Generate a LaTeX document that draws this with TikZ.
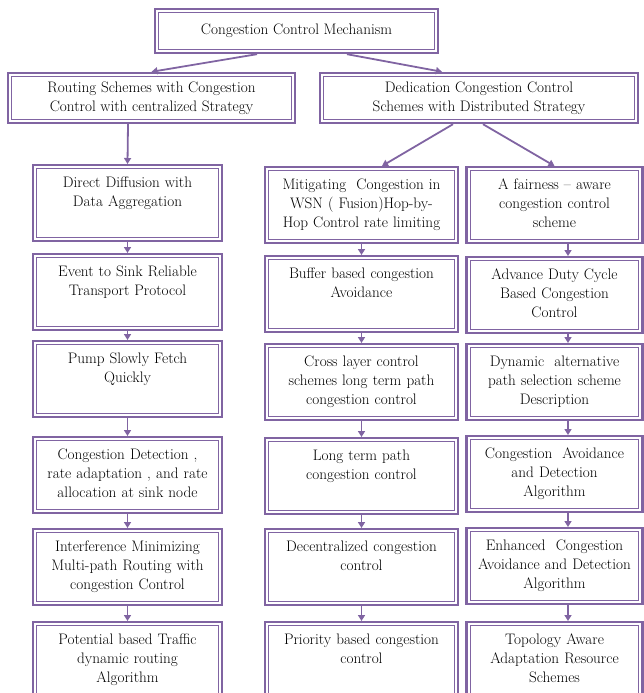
\documentclass[tikz,border=0pt]{standalone}
\usepackage{tikz}
\usetikzlibrary{arrows.meta}
\usepackage{xcolor}

\definecolor{boxline}{RGB}{128,100,162}

\tikzset{
  frame/.style={draw=boxline, line width=2.4pt, fill=white, inner xsep=2pt, inner ysep=6pt,
    align=center, text=black,
    path picture={\draw[boxline, line width=0.9pt]
      ([shift={(3.6pt,3.6pt)}]path picture bounding box.south west) rectangle
      ([shift={(-3.6pt,-3.6pt)}]path picture bounding box.north east);}},
  colbox/.style={frame, anchor=north, text width=#1, text height=16pt, text depth=48pt},
  link/.style={draw=boxline, line width=1.8pt, -{Triangle[length=6pt,width=7pt]}},
}

\begin{document}
\begin{tikzpicture}[x=1pt, y=-1pt, font=\fontsize{15.2}{19}\selectfont]

  \useasboundingbox (0,0) rectangle (644,693);
  \clip (0,0) rectangle (644,693);

  % Top levels
  \node[frame, minimum width=283pt, minimum height=44pt] (ccm) at (296.5,31) {Congestion Control Mechanism};
  \node[frame, minimum width=287pt, minimum height=50pt] (rout) at (151.5,98)
    {Routing Schemes with Congestion\\Control with centralized Strategy};
  \node[frame, minimum width=318pt, minimum height=50pt] (ded) at (479,98)
    {Dedication Congestion Control\\Schemes with Distributed Strategy};

  % Centralized column
  \node[colbox=185pt] (dd)   at (127.5,164) {Direct Diffusion with\\Data Aggregation};
  \node[colbox=185pt] (esrt) at (127.5,253) {Event to Sink Reliable\\Transport Protocol};
  \node[colbox=185pt] (psfq) at (127.5,340) {Pump Slowly Fetch\\Quickly};
  \node[colbox=185pt] (cda)  at (127.5,436) {Congestion Detection ,\\rate adaptation , and rate\\allocation at sink node};
  \node[colbox=185pt] (imr)  at (127.5,528) {Interference Minimizing\\Multi-path Routing with\\congestion Control};
  \node[colbox=185pt, text depth=60pt] (ptr) at (127.5,621) {Potential based Traffic\\dynamic routing\\Algorithm};

  % Distributed columns
  \node[colbox=189pt] (mit)   at (361.5,166) {Mitigating\ \ Congestion in\\WSN ( Fusion)Hop-by-\\Hop Control rate limiting};
  \node[colbox=189pt] (buf)   at (361.5,255) {Buffer based congestion\\Avoidance};
  \node[colbox=189pt] (cross) at (361.5,343) {Cross layer control\\schemes long term path\\congestion control};
  \node[colbox=189pt] (ltp)   at (361.5,437) {Long term path\\congestion control};
  \node[colbox=189pt] (dec)   at (361.5,528) {Decentralized congestion\\control};
  \node[colbox=189pt, text depth=60pt] (pri) at (361.5,621) {Priority based congestion\\control};

  \node[colbox=172pt] (fair) at (554.5,166) {A fairness -- aware\\congestion control\\scheme};
  \node[colbox=172pt] (adc)  at (554.5,256) {Advance Duty Cycle\\Based Congestion\\Control};
  \node[colbox=172pt] (dyn)  at (554.5,343) {Dynamic\ \ alternative\\path selection scheme\\Description};
  \node[colbox=172pt] (cad)  at (554.5,435) {Congestion\ \ Avoidance\\and Detection\\Algorithm};
  \node[colbox=172pt] (ecad) at (554.5,527) {Enhanced\ \ Congestion\\Avoidance and Detection\\Algorithm};
  \node[colbox=172pt, text depth=60pt] (topo) at (554.5,621) {Topology Aware\\Adaptation Resource\\Schemes};

  % Branches
  \draw[link] ([xshift=-39.5pt]ccm.south) -- (rout.north);
  \draw[link] ([xshift=50.5pt]ccm.south) -- ([xshift=-37pt]ded.north);
  \draw[link] ([xshift=-23.5pt]rout.south) -- (dd.north);
  \draw[link] ([xshift=-26pt]ded.south) -- ([xshift=20.5pt]mit.north);
  \draw[link] ([xshift=4pt]ded.south) -- (fair.north);

  % Column chains
  \foreach \a/\b in {dd/esrt, esrt/psfq, psfq/cda, cda/imr, imr/ptr,
                     mit/buf, buf/cross, cross/ltp, ltp/dec, dec/pri}
    \draw[link] (\a.south) -- (\b.north);
  \foreach \a/\b in {fair/adc, adc/dyn, dyn/cad, cad/ecad, ecad/topo}
    \draw[link] ([xshift=13.5pt]\a.south) -- ([xshift=13.5pt]\b.north);

\end{tikzpicture}
\end{document}
